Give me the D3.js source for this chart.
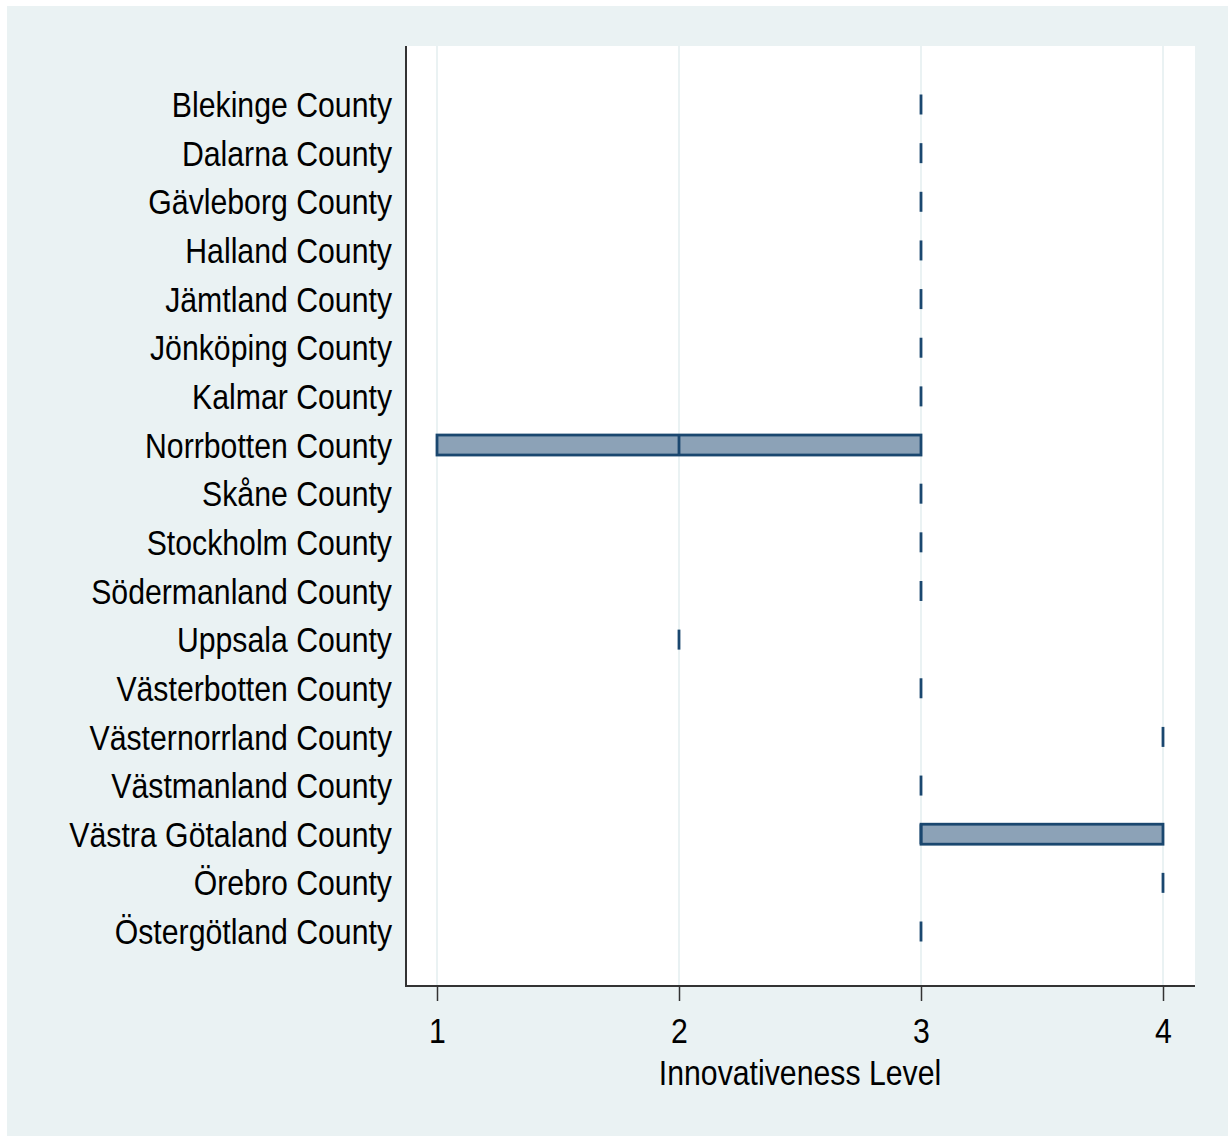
<!DOCTYPE html>
<html>
<head>
<meta charset="utf-8">
<script src="https://cdn.jsdelivr.net/npm/d3@7"></script>
<style>
  body { margin: 0; background: #fff; }
  svg text { font-family: "Liberation Sans Narrow", "Arial Narrow", "Liberation Sans", sans-serif; fill: #000; }
</style>
</head>
<body>
<svg id="chart" width="1228" height="1136"></svg>
<script>
// counties, top to bottom
var counties = ["Blekinge County", "Dalarna County", "Gävleborg County", "Halland County",
  "Jämtland County", "Jönköping County", "Kalmar County", "Norrbotten County",
  "Skåne County", "Stockholm County", "Södermanland County", "Uppsala County",
  "Västerbotten County", "Västernorrland County", "Västmanland County",
  "Västra Götaland County", "Örebro County", "Östergötland County"];

// box statistics per county
var q1     = [3, 3, 3, 3, 3, 3, 3, 1, 3, 3, 3, 2, 3, 4, 3, 3, 4, 3];
var median = [3, 3, 3, 3, 3, 3, 3, 2, 3, 3, 3, 2, 3, 4, 3, 3, 4, 3];
var q3     = [3, 3, 3, 3, 3, 3, 3, 3, 3, 3, 3, 2, 3, 4, 3, 4, 4, 3];

var xTicks = [1, 2, 3, 4];
var xTitle = "Innovativeness Level";

var squeeze = 0.84; // fake a narrow font
var fs = 36;

var svg = d3.select("#chart");

// outer graph region
svg.append("rect").attr("x", 7).attr("y", 6).attr("width", 1221).attr("height", 1130)
  .attr("fill", "#eaf2f3");

var plot = {left: 406, right: 1195, top: 46, bottom: 986};

svg.append("rect").attr("x", plot.left).attr("y", plot.top)
  .attr("width", plot.right - plot.left).attr("height", plot.bottom - plot.top)
  .attr("fill", "#fff");

var x = d3.scaleLinear().domain([1, 4]).range([437, 1163]);
var y = d3.scalePoint().domain(counties).range([104, 931]);

// grid lines
svg.append("g").selectAll("line").data(xTicks).join("line")
  .attr("x1", d => x(d)).attr("x2", d => x(d))
  .attr("y1", plot.top).attr("y2", plot.bottom)
  .attr("stroke", "#eaf2f3").attr("stroke-width", 2);

var data = counties.map((c, i) => ({c: c, q1: q1[i], med: median[i], q3: q3[i]}));
var boxH = 20;

var boxes = svg.append("g").selectAll("g").data(data).join("g");
boxes.append("rect")
  .attr("x", d => x(d.q1))
  .attr("y", d => y(d.c) - boxH / 2 + 0.5)
  .attr("width", d => x(d.q3) - x(d.q1))
  .attr("height", boxH)
  .attr("fill", "#8ca2b7")
  .attr("stroke", "#1a476f").attr("stroke-width", 2.8);
boxes.append("line")
  .attr("x1", d => x(d.med)).attr("x2", d => x(d.med))
  .attr("y1", d => y(d.c) - boxH / 2 + 0.5).attr("y2", d => y(d.c) + boxH / 2 + 0.5)
  .attr("stroke", "#1a476f").attr("stroke-width", 2.8);

// y axis labels
var yAxis = d3.axisLeft(y).tickSize(0).tickPadding(0);
var ya = svg.append("g").attr("transform", "translate(" + plot.left + ",0)").call(yAxis);
ya.select(".domain").remove();
ya.selectAll("text").style("font-size", fs + "px").attr("dy", "0.35em")
  .attr("x", -14 / squeeze)
  .attr("transform", "scale(" + squeeze + ",1)");
svg.append("line").attr("x1", plot.left).attr("x2", plot.left)
  .attr("y1", plot.top).attr("y2", plot.bottom + 1)
  .attr("stroke", "#333").attr("stroke-width", 2);

// x axis
var xAxis = d3.axisBottom(x).tickValues(xTicks).tickFormat(d3.format("d"))
  .tickSize(15).tickPadding(16);
var xa = svg.append("g").attr("transform", "translate(0," + plot.bottom + ")").call(xAxis);
xa.select(".domain").remove();
xa.selectAll(".tick line").attr("stroke", "#333").attr("stroke-width", 1.5);
xa.selectAll("text").style("font-size", fs + "px")
  .attr("transform", "scale(" + squeeze + ",1)");
svg.append("line").attr("x1", plot.left - 1).attr("x2", plot.right)
  .attr("y1", plot.bottom).attr("y2", plot.bottom)
  .attr("stroke", "#333").attr("stroke-width", 2);

svg.append("text")
  .attr("transform", "translate(" + x(2.5) + ",1085) scale(" + squeeze + ",1)")
  .attr("text-anchor", "middle").style("font-size", fs + "px").text(xTitle);
</script>
</body>
</html>
